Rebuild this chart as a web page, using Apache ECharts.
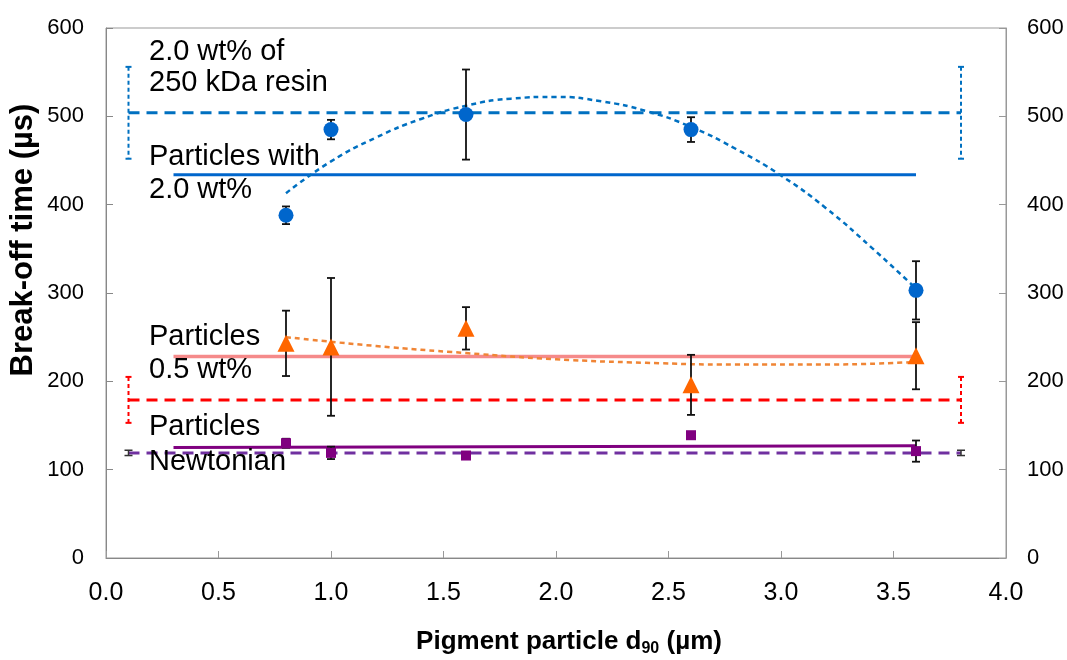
<!DOCTYPE html>
<html>
<head>
<meta charset="utf-8">
<script src="https://cdn.jsdelivr.net/npm/echarts@6/dist/echarts.min.js"></script>
<style>
  html, body { margin: 0; padding: 0; background: #fff; }
  #main { width: 1067px; height: 660px; }
</style>
</head>
<body>
<div id="main"></div>
<script>
// measured points (d90 in µm)
var xPts = [0.8, 1.0, 1.6, 2.6, 3.6];

// particles with 2.0 wt% (blue circles)
var blueVals = [388, 485, 502, 485, 303];
var blueErr = [10, 11, 51, 14, 33];
// particles 0.5 wt% (orange triangles)
var orangeVals = [243, 239, 260, 196, 229];
var orangeErr = [37, 78, 24, 34, 38];
// particles newtonian (purple squares)
var purpleVals = [130, 119, 116, 139, 121];
var purpleErr = [5, 7, 0, 0, 12];

// reference levels (horizontal lines)
var resinSpan = [0.1, 3.8];
var fitSpan = [0.3, 3.6];
var resinLevel = 504, resinErr = 52;          // 2.0 wt% of 250 kDa resin
var redLevel = 179, redErr = 26;              // 0.5 wt% resin
var newtLevel = 119, newtErr = 3;             // newtonian
var blueMean = 434;                           // particles with 2.0 wt%
var pinkMean = 228;                           // particles 0.5 wt%
var purpleMean = [125, 127];                  // particles newtonian (start, end)

// trend lines
var blueFitX = [0.8, 1.0, 1.2, 1.4, 1.6, 1.8, 2.0, 2.2, 2.4, 2.6, 2.8, 3.0, 3.2, 3.4, 3.6];
var blueFitY = [413, 449, 476, 497, 512, 520, 522, 517, 506, 488, 463, 433, 396, 352, 305];
var orangeFitX = [0.8, 1.2, 1.6, 2.0, 2.4, 2.8, 3.2, 3.6];
var orangeFitY = [250, 240, 232, 225, 221, 219, 219, 222];

function pairs(xs, ys) {
  var out = [];
  for (var i = 0; i < xs.length; i++) out.push([xs[i], ys[i]]);
  return out;
}
function bars(xs, ys, es) {
  var out = [];
  for (var i = 0; i < xs.length; i++) {
    if (es[i] > 0) out.push([xs[i], ys[i] - es[i], ys[i] + es[i]]);
  }
  return out;
}
function hline(span, a, b) {
  return [[span[0], a], [span[1], b === undefined ? a : b]];
}
function errSeries(data, color, width, cap, dash, z) {
  return {
    type: 'custom',
    z: z || 3,
    data: data,
    encode: { x: 0, y: [1, 2] },
    renderItem: function (params, api) {
      var x = api.value(0);
      var top = api.coord([x, api.value(2)]);
      var bot = api.coord([x, api.value(1)]);
      var st = { stroke: color, lineWidth: width, lineDash: dash || null };
      var cs = { stroke: color, lineWidth: width };
      return {
        type: 'group',
        children: [
          { type: 'line', shape: { x1: top[0], y1: top[1], x2: bot[0], y2: bot[1] }, style: st },
          { type: 'line', shape: { x1: top[0] - cap, y1: top[1], x2: top[0] + cap, y2: top[1] }, style: cs },
          { type: 'line', shape: { x1: bot[0] - cap, y1: bot[1], x2: bot[0] + cap, y2: bot[1] }, style: cs }
        ]
      };
    }
  };
}
function lineSeries(data, color, width, dash, smooth, z) {
  return {
    type: 'line',
    data: data,
    symbol: 'none',
    smooth: smooth || false,
    z: z || 2,
    lineStyle: { color: color, width: width, type: dash || 'solid' }
  };
}

var chart = echarts.init(document.getElementById('main'));
var FONT = 'Liberation Sans, Arial, sans-serif';
var axisLabelY = { fontSize: 22, color: '#000', fontFamily: FONT };

var annos = [
  ['2.0 wt% of', 52], ['250 kDa resin', 83],
  ['Particles with', 157], ['2.0 wt%', 190],
  ['Particles', 337], ['0.5 wt%', 370],
  ['Particles', 427], ['Newtonian', 462]
];
var graphics = annos.map(function (a) {
  return {
    type: 'text', left: 149, top: a[1] - 15, z: 10,
    style: { text: a[0], fontSize: 29, fill: '#000', fontFamily: FONT }
  };
});
graphics.push({
  type: 'text', x: 569, y: 642, z: 10,
  style: {
    text: '{a|Pigment particle d}{b|90}{a| (µm)}',
    align: 'center', verticalAlign: 'middle',
    rich: {
      a: { fontSize: 26, fontWeight: 'bold', fill: '#000', fontFamily: FONT, lineHeight: 30 },
      b: { fontSize: 16, fontWeight: 'bold', fill: '#000', fontFamily: FONT, lineHeight: 14, verticalAlign: 'bottom' }
    }
  }
});
graphics.push({
  type: 'text', x: 23, y: 240, rotation: Math.PI / 2, z: 10,
  style: {
    text: 'Break-off time (µs)', align: 'center', verticalAlign: 'middle',
    fontSize: 31, fontWeight: 'bold', fill: '#000', fontFamily: FONT
  }
});

chart.setOption({
  animation: false,
  backgroundColor: '#fff',
  grid: { left: 106, right: 61, top: 28, bottom: 102, show: true, borderColor: '#999', borderWidth: 1 },
  xAxis: {
    type: 'value', min: 0, max: 4, interval: 0.5,
    axisLine: { onZero: false, lineStyle: { color: '#888' } },
    axisTick: { inside: true, length: 7, lineStyle: { color: '#999' } },
    splitLine: { show: false },
    axisLabel: {
      margin: 23, fontSize: 25, color: '#000', fontFamily: FONT,
      formatter: function (v) { return v.toFixed(1); }
    }
  },
  yAxis: [{
    type: 'value', min: 0, max: 600, interval: 100, position: 'left',
    axisLine: { show: true, lineStyle: { color: '#888' } },
    axisTick: { show: true, inside: true, length: 7, lineStyle: { color: '#888' } },
    splitLine: { show: false },
    axisLabel: Object.assign({ margin: 22 }, axisLabelY)
  }, {
    type: 'value', min: 0, max: 600, interval: 100, position: 'right',
    axisLine: { show: true, lineStyle: { color: '#999' } },
    axisTick: { show: true, inside: true, length: 7, lineStyle: { color: '#999' } },
    splitLine: { show: false },
    axisLabel: Object.assign({ margin: 21 }, axisLabelY)
  }],
  graphic: graphics,
  series: [
    // 2.0 wt% of 250 kDa resin
    lineSeries(hline(resinSpan, resinLevel), '#0070C0', 3, [11, 7]),
    errSeries(bars(resinSpan, [resinLevel, resinLevel], [resinErr, resinErr]), '#0070C0', 2, 3, [4, 3]),
    // particles with 2.0 wt%
    lineSeries(hline(fitSpan, blueMean), '#0066CC', 3),
    lineSeries(pairs(blueFitX, blueFitY), '#0070C0', 2.5, [5, 4], 0.5),
    // 0.5 wt% resin
    lineSeries(hline(resinSpan, redLevel), '#FF0000', 3, [11, 7]),
    errSeries(bars(resinSpan, [redLevel, redLevel], [redErr, redErr]), '#FF0000', 2, 3, [4, 3]),
    // particles 0.5 wt%
    lineSeries(hline(fitSpan, pinkMean), '#F58A8A', 3.5),
    lineSeries(pairs(orangeFitX, orangeFitY), '#F08535', 2.5, [5, 4], 0.5),
    // newtonian
    lineSeries(hline(resinSpan, newtLevel), '#7030A0', 3, [11, 7]),
    errSeries(bars(resinSpan, [newtLevel, newtLevel], [newtErr, newtErr]), '#333', 1.5, 4),
    lineSeries(hline(fitSpan, purpleMean[0], purpleMean[1]), '#800080', 3),
    // error bars on measured points
    errSeries(bars(xPts, blueVals, blueErr), '#111', 1.8, 4, null, 4),
    errSeries(bars(xPts, orangeVals, orangeErr), '#111', 1.8, 4, null, 4),
    errSeries(bars(xPts, purpleVals, purpleErr), '#111', 1.8, 4, null, 4),
    // measured points
    { type: 'scatter', z: 5, data: pairs(xPts, blueVals), symbol: 'circle', symbolSize: 15, itemStyle: { color: '#0066CC', opacity: 1 } },
    { type: 'scatter', z: 5, data: pairs(xPts, orangeVals), symbol: 'triangle', symbolSize: 17, itemStyle: { color: '#FF6600', opacity: 1 } },
    { type: 'scatter', z: 5, data: pairs(xPts, purpleVals), symbol: 'rect', symbolSize: 10, itemStyle: { color: '#800080', opacity: 1 } }
  ]
});
</script>
</body>
</html>
